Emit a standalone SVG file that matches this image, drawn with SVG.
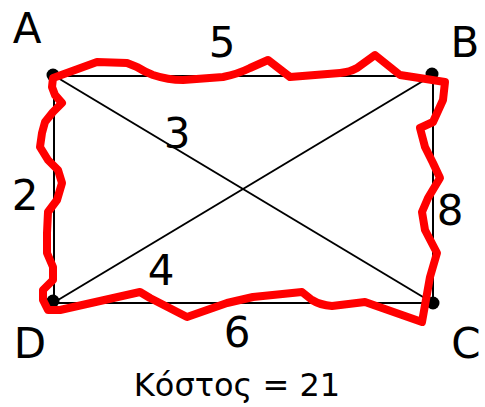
<svg xmlns="http://www.w3.org/2000/svg" width="485" height="407" viewBox="0 0 485 407">
<style>
.edge{stroke:#000;stroke-width:2;fill:none}
.dot{fill:#000}
.lbl{font-family:"DejaVu Sans","Liberation Sans",sans-serif;font-size:42px;fill:#000;text-anchor:middle}
.cost{font-family:"DejaVu Sans","Liberation Sans",sans-serif;font-size:32px;fill:#000;text-anchor:middle}
.tour{stroke:#ff0000;stroke-width:8;fill:none;stroke-linejoin:round;stroke-linecap:round}
</style>
<rect width="485" height="407" fill="#fff"/>
<g id="connectors">
<line class="edge" x1="53" y1="76" x2="433" y2="76"/>
<line class="edge" x1="53" y1="303" x2="433" y2="303"/>
<line class="edge" x1="54" y1="75" x2="54" y2="303"/>
<line class="edge" x1="433" y1="75" x2="433" y2="303"/>
<line class="edge" x1="53" y1="75" x2="433" y2="303"/>
<line class="edge" x1="433" y1="75" x2="53" y2="303"/>
</g>
<g id="nodeA"><circle class="dot" cx="53" cy="75" r="6.5"/><text class="lbl" x="27" y="43">A</text></g>
<g id="nodeB"><circle class="dot" cx="432" cy="74" r="6.5"/><text class="lbl" x="465" y="57">B</text></g>
<g id="nodeC"><circle class="dot" cx="433" cy="303" r="6.5"/><text class="lbl" x="466" y="358">C</text></g>
<g id="nodeD"><circle class="dot" cx="53" cy="301" r="6.5"/><text class="lbl" x="30" y="358">D</text></g>
<g id="weights">
<text class="lbl" x="222" y="57">5</text>
<text class="lbl" x="177" y="148">3</text>
<text class="lbl" x="25" y="210">2</text>
<text class="lbl" x="450" y="225">8</text>
<text class="lbl" x="161" y="285">4</text>
<text class="lbl" x="237" y="347">6</text>
</g>
<path id="tour" class="tour" d="M53,78 L97,62 L127,63 L137,67 Q145,72 153,75 Q168,80 183,80 L223,77 Q238,74 250,68 L268,60 L290,77 L340,73 Q350,72 357,68 L375,55 L400,75 L413,77 L445,82 L443,100 L433,122 L420,128 L425,147 L433,163 L440,178 L428,198 L422,212 L425,230 L437,253 L430,277 L422,322 L365,302 L332,306 Q320,305 312,300 L302,292 L253,297 L227,303 L187,317 L150,298 L140,292 L60,310 L48,310 L43,300 L43,290 L53,280 L53,267 L47,253 L47,233 L48,212 L57,200 L62,183 L58,170 L48,160 L40,147 L42,133 L45,122 L53,112 L62,103 L55,95 L52,87 Z"/>
<text class="cost" x="237" y="396">Κόστος = 21</text>
</svg>
